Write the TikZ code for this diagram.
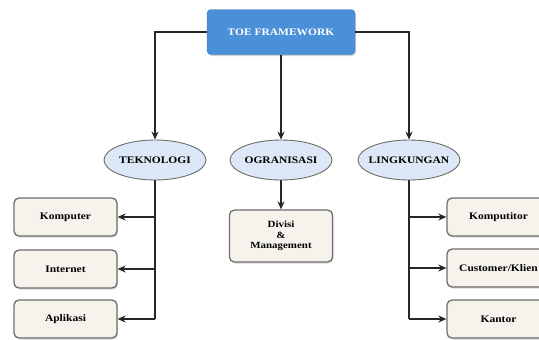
\documentclass[tikz,border=0pt]{standalone}
\usepackage{fontspec}
\setmainfont[FakeStretch=1.15]{Liberation Serif}
\usetikzlibrary{shapes.geometric,arrows.meta,shadows}
\definecolor{topblue}{HTML}{4A90D9}
\definecolor{ellblue}{HTML}{DCE8F7}
\definecolor{leaffill}{HTML}{F5F3EC}
\definecolor{edgegray}{HTML}{6E6E6E}
\begin{document}
\begin{tikzpicture}[x=1pt,y=-1pt,
  topbox/.style={rectangle, rounded corners=4pt, fill=topblue, draw=topblue!85!black,
    minimum width=148pt, minimum height=45pt, text=white,
    font=\bfseries\fontsize{10}{11}\selectfont,
    drop shadow={shadow xshift=1pt,shadow yshift=-1.5pt,opacity=0.35}},
  ell/.style={ellipse, draw=edgegray, line width=0.9pt, fill=ellblue,
    minimum width=102pt, minimum height=40pt, inner xsep=-14pt, inner ysep=0pt,
    font=\bfseries\fontsize{10}{11}\selectfont},
  leaf/.style={rectangle, rounded corners=5pt, draw=edgegray, line width=1.3pt,
    fill=leaffill, minimum width=103pt, minimum height=38pt, align=center,
    font=\bfseries\fontsize{10}{11}\selectfont,
    drop shadow={shadow xshift=1pt,shadow yshift=-1.5pt,opacity=0.3}},
  arr/.style={-{Stealth[length=8pt,width=7pt]}, line width=1.2pt, draw=black!85},
  ln/.style={line width=1.2pt, draw=black!85}]
\useasboundingbox (0,0) rectangle (539,340);
\fill[white] (0,0) rectangle (539,340);

\node[topbox] (toe) at (281,32) {TOE FRAMEWORK};

\node[ell] (tek) at (155,160) {TEKNOLOGI};
\node[ell] (org) at (281,160) {OGRANISASI};
\node[ell] (lin) at (409,160) {LINGKUNGAN};

\node[leaf] (k1) at (65.5,217) {Komputer};
\node[leaf] (k2) at (65.5,269) {Internet};
\node[leaf] (k3) at (65.5,319) {Aplikasi};

\node[leaf, minimum height=52pt, font=\bfseries\fontsize{9.5}{10.5}\selectfont] (dv) at (281,236) {Divisi\\\&\\Management};

\node[leaf] (r1) at (498.5,217) {Komputitor};
\node[leaf] (r2) at (498.5,268) {Customer/Klien};
\node[leaf] (r3) at (498.5,319) {Kantor};

\draw[arr] (toe.west) -| (tek.north);
\draw[arr] (toe.east) -| (lin.north);
\draw[arr] (toe.south) -- (org.north);
\draw[arr] (org.south) -- (dv.north);

\coordinate (tb) at (tek.south |- k3.east);
\draw[ln] (tek.south) -- (tb);
\draw[arr] (tek.south |- k1.east) -- (k1.east);
\draw[arr] (tek.south |- k2.east) -- (k2.east);
\draw[arr] (tb) -- (k3.east);

\coordinate (lb) at (lin.south |- r3.west);
\draw[ln] (lin.south) -- (lb);
\draw[arr] (lin.south |- r1.west) -- (r1.west);
\draw[arr] (lin.south |- r2.west) -- (r2.west);
\draw[arr] (lb) -- (r3.west);
\end{tikzpicture}
\end{document}
